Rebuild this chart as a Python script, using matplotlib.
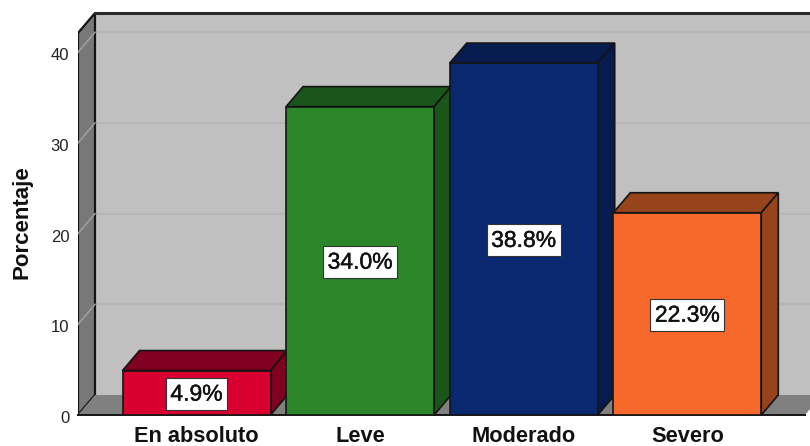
import matplotlib
matplotlib.use("Agg")
import matplotlib.pyplot as plt
from matplotlib.patches import Polygon
from matplotlib.transforms import ScaledTranslation
import matplotlib.patheffects as pe

categories = ["En absoluto", "Leve", "Moderado", "Severo"]
values = [4.9, 34.0, 38.8, 22.3]
yticks = [0, 10, 20, 30, 40]
front_colors = ["#d8002f", "#2a8629", "#0a2870", "#f6692b"]
dark_colors = ["#7f0020", "#1a561a", "#061c4f", "#97431c"]

plt.rcParams['font.family'] = ['Liberation Sans', 'DejaVu Sans']

W, H = 810, 446
fig = plt.figure(figsize=(W / 100, H / 100), dpi=100)
ax = fig.add_axes([78 / W, (H - 415) / H, (W - 78) / W, (415 - 13) / H])

# pixels per unit
px_x = 163.6
px_y = 9.07
x_left = (78 - 196.5) / px_x
x_right = (W - 196.5) / px_x
y_top = (415 - 13) / px_y
ax.set_xlim(x_left, x_right)
ax.set_ylim(0, y_top)

dx = 17 / px_x
dy = 20 / px_y
x_front_right = (805 - 196.5) / px_x
edge = "#141414"

# walls
ax.add_patch(Polygon([(x_left + dx, dy), (x_right + 1, dy), (x_right + 1, y_top), (x_left + dx, y_top)],
                     fc="#c0c0c0", ec="none", zorder=1))
ax.add_patch(Polygon([(x_left, 0), (x_left + dx, dy), (x_left + dx, y_top), (x_left, y_top - dy)],
                     fc="#787878", ec=edge, lw=1.6, zorder=2))
ax.add_patch(Polygon([(x_left, 0), (x_front_right, 0), (x_front_right + dx, dy), (x_left + dx, dy)],
                     fc="#808080", ec="none", zorder=2))
ax.plot([x_left, x_front_right], [0, 0], color=edge, lw=1.4, zorder=3, clip_on=False)
ax.plot([x_left + dx, x_right], [y_top, y_top], color="#2a2a2a", lw=2.2, zorder=3, clip_on=False)

# grid
for t in yticks[1:]:
    ax.plot([x_left + dx, x_right], [t + dy, t + dy], color="#b4b4b4", lw=1.2, zorder=1.5)
    ax.plot([x_left, x_left + dx], [t, t + dy], color="#a0a0a0", lw=1.1, zorder=2.5)

# bars
bar_w = 148 / px_x
for i, v in enumerate(values):
    l = i - bar_w / 2
    r = i + bar_w / 2
    ax.bar(i, v, width=bar_w, color=front_colors[i], edgecolor=edge, linewidth=1.2, zorder=5)
    ax.add_patch(Polygon([(l, v), (r, v), (r + dx, v + dy), (l + dx, v + dy)],
                         fc=dark_colors[i], ec=edge, lw=1.2, zorder=4))
    ax.add_patch(Polygon([(r, 0), (r + dx, dy), (r + dx, v + dy), (r, v)],
                         fc=dark_colors[i], ec=edge, lw=1.2, zorder=4))
    ax.text(i, v / 2 - 0.15, f"{v:.1f}%", ha="center", va="center", fontsize=16.5, color="#111111", zorder=6,
            path_effects=[pe.withStroke(linewidth=0.3, foreground="#111111")],
            bbox=dict(boxstyle="square,pad=0.2", fc="white", ec="#333333", lw=0.8))

for s in ax.spines.values():
    s.set_visible(False)
ax.set_yticks(yticks)
ax.set_xticks(range(len(categories)))
ax.set_xticklabels(categories, fontsize=15.7, fontweight="bold", color="#111111")
ax.tick_params(axis="x", length=0, pad=8)
ax.tick_params(axis="y", length=0, pad=7, labelsize=12, labelcolor="#222222")
# tick labels sit a little lower in the original
shift = ScaledTranslation(1 / 100, -2 / 100, fig.dpi_scale_trans)
for lab in ax.get_yticklabels():
    lab.set_transform(lab.get_transform() + shift)
fig.text(22 / W, 1 - 222 / H, "Porcentaje", rotation=90, ha="center", va="center",
         fontsize=16, fontweight="bold", color="#111111")

fig.savefig("out.png", dpi=100)
